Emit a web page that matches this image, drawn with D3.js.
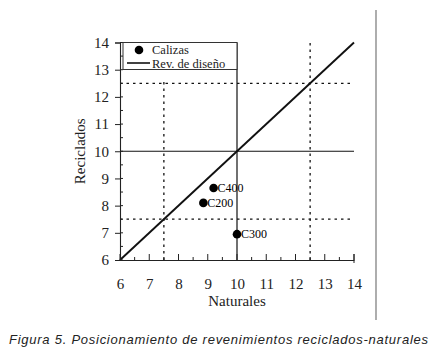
<!DOCTYPE html>
<html>
<head>
<meta charset="utf-8">
<script src="https://cdn.jsdelivr.net/npm/d3@7"></script>
<style>
  body { margin: 0; background: #fff; }
  svg { display: block; }
</style>
</head>
<body>
<div id="chart"></div>
<script>
// data
let names = ["C400", "C200", "C300"];
let naturales = [9.2, 8.85, 10];
let reciclados = [8.65, 8.1, 6.95];
let xTicks = [6, 7, 8, 9, 10, 11, 12, 13, 14];
let yTicks = [6, 7, 8, 9, 10, 11, 12, 13, 14];
let refLines = [7.5, 12.5];   // dotted limits
let designLine = [6, 14];     // y = x

let W = 435, H = 356;
let margin = {top: 42.5, left: 120, right: 81, bottom: 96};

let svg = d3.select("#chart").append("svg")
	.attr("width", W)
	.attr("height", H);

let x = d3.scaleLinear().domain([6, 14]).range([margin.left, W - margin.right]);
let y = d3.scaleLinear().domain([6, 14]).range([H - margin.bottom, margin.top]);

let serif = "'Liberation Serif', 'DejaVu Serif', serif";

// dotted limit lines
refLines.forEach(function(v) {
	svg.append("line")
		.attr("x1", x(6)).attr("x2", x(14))
		.attr("y1", y(v)).attr("y2", y(v))
		.attr("stroke", "#111").attr("stroke-width", 1.3)
		.attr("stroke-dasharray", "2.5,4");
	svg.append("line")
		.attr("x1", x(v)).attr("x2", x(v))
		.attr("y1", y(6)).attr("y2", y(v == 7.5 ? 12.6 : 14))
		.attr("stroke", "#111").attr("stroke-width", 1.3)
		.attr("stroke-dasharray", "2.5,4");
});

// solid lines at 10
svg.append("line")
	.attr("x1", x(6)).attr("x2", x(14))
	.attr("y1", y(10)).attr("y2", y(10))
	.attr("stroke", "#111").attr("stroke-width", 1.2);
svg.append("line")
	.attr("x1", x(10)).attr("x2", x(10))
	.attr("y1", y(6)).attr("y2", y(14))
	.attr("stroke", "#111").attr("stroke-width", 1.2);

// design line y = x
svg.append("line")
	.attr("x1", x(designLine[0])).attr("y1", y(designLine[0]))
	.attr("x2", x(designLine[1])).attr("y2", y(designLine[1]))
	.attr("stroke", "#111").attr("stroke-width", 1.9);

// axes
let yAxis = d3.axisLeft(y).tickValues(yTicks).tickSize(5).tickPadding(6);
let xAxis = d3.axisBottom(x).tickValues(xTicks).tickSize(0).tickPadding(18);

let gy = svg.append("g").attr("transform", "translate(" + x(6) + ",0)").call(yAxis);
let gx = svg.append("g").attr("transform", "translate(0," + y(6) + ")").call(xAxis);

[gx, gy].forEach(function(g) {
	g.select(".domain").attr("stroke", "#222").attr("stroke-width", 1.1);
	g.selectAll("text")
		.attr("font-family", serif)
		.attr("font-size", 15)
		.attr("fill", "#222");
	g.selectAll(".tick line").attr("stroke", "#222");
});

// inner ticks
let halves = d3.range(6, 14.01, 0.5);
svg.append("g").selectAll("line")
	.data(halves)
	.join("line")
	.attr("x1", x(6)).attr("x2", x(6) + 3)
	.attr("y1", d => y(d)).attr("y2", d => y(d))
	.attr("stroke", "#222");
svg.append("g").selectAll("line")
	.data(halves)
	.join("line")
	.attr("x1", d => x(d)).attr("x2", d => x(d))
	.attr("y1", y(6)).attr("y2", d => y(6) - (d % 1 == 0 ? 6 : 3))
	.attr("stroke", "#222");
svg.append("line")
	.attr("x1", x(14)).attr("x2", x(14))
	.attr("y1", y(6) - 6).attr("y2", y(6) + 3)
	.attr("stroke", "#222");

// axis titles
svg.append("text")
	.attr("x", x(10)).attr("y", 306)
	.attr("text-anchor", "middle")
	.attr("font-family", serif).attr("font-size", 15).attr("fill", "#222")
	.text("Naturales");
svg.append("text")
	.attr("transform", "translate(85," + y(10) + ") rotate(-90)")
	.attr("text-anchor", "middle")
	.attr("font-family", serif).attr("font-size", 15).attr("fill", "#222")
	.text("Reciclados");

// points
svg.append("g").selectAll("circle")
	.data(names)
	.join("circle")
	.attr("cx", (d, i) => x(naturales[i]))
	.attr("cy", (d, i) => y(reciclados[i]))
	.attr("r", 4.3)
	.attr("fill", "#000");
svg.append("g").selectAll("text")
	.data(names)
	.join("text")
	.attr("x", (d, i) => x(naturales[i]) + 4)
	.attr("y", (d, i) => y(reciclados[i]) + 4)
	.attr("font-family", serif).attr("font-size", 12).attr("fill", "#000")
	.text(d => d);

// legend
let lg = svg.append("g");
lg.append("rect")
	.attr("x", 123).attr("y", 42.5)
	.attr("width", x(10) - 123).attr("height", 27)
	.attr("fill", "#fff").attr("stroke", "#333").attr("stroke-width", 1);
lg.append("circle").attr("cx", 139).attr("cy", 50).attr("r", 4.3).attr("fill", "#000");
lg.append("text").attr("x", 152).attr("y", 54)
	.attr("font-family", serif).attr("font-size", 12.5).attr("fill", "#222")
	.text("Calizas");
lg.append("line").attr("x1", 127).attr("x2", 150).attr("y1", 63).attr("y2", 63)
	.attr("stroke", "#111").attr("stroke-width", 1.6);
lg.append("text").attr("x", 152).attr("y", 67.5)
	.attr("font-family", serif).attr("font-size", 12.5).attr("fill", "#222")
	.text("Rev. de diseño");

// page rule on the right
svg.append("line")
	.attr("x1", 376).attr("x2", 376).attr("y1", 10).attr("y2", 320)
	.attr("stroke", "#777").attr("stroke-width", 1.2);

// caption
svg.append("text")
	.attr("x", 9).attr("y", 344)
	.attr("font-family", "'Liberation Sans', Arial, sans-serif")
	.attr("font-style", "italic").attr("font-size", 13).attr("fill", "#222")
	.attr("textLength", 419).attr("lengthAdjust", "spacing")
	.text("Figura 5. Posicionamiento de revenimientos reciclados-naturales");
</script>
</body>
</html>
